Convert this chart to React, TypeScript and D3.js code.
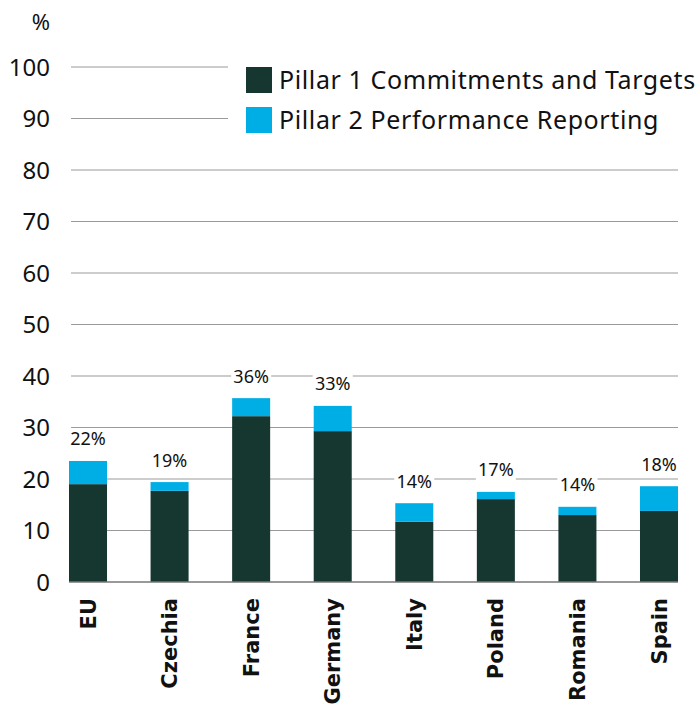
import React from "react";
import * as d3 from "d3";

const categories = ["EU", "Czechia", "France", "Germany", "Italy", "Poland", "Romania", "Spain"];
const pillar1 = [19.0, 17.7, 32.2, 29.3, 11.7, 16.1, 13.0, 13.8];
const pillar2 = [4.5, 1.7, 3.5, 4.9, 3.6, 1.4, 1.6, 4.8];
const totalLabels = ["22%", "19%", "36%", "33%", "14%", "17%", "14%", "18%"];
const yTicks = [0, 10, 20, 30, 40, 50, 60, 70, 80, 90, 100];
const seriesNames = ["Pillar 1 Commitments and Targets", "Pillar 2 Performance Reporting"];

const W = 697;
const H = 705;
const DARK = "#163630";
const BLUE = "#00AEE6";
const FONT = "'Noto Sans', 'Open Sans', sans-serif";

export default function App() {
  const x = d3.scaleBand<string>().domain(categories).range([69, 678]).paddingInner(0.534).paddingOuter(0);
  const y = d3.scaleLinear().domain([0, 100]).range([582, 67]);
  const bw = x.bandwidth();
  const rows = categories.map((c, i) => ({ c, p1: pillar1[i], p2: pillar2[i], label: totalLabels[i] }));

  return (
    <svg width={W} height={H} style={{ position: "absolute", left: 0, top: 0, background: "#fff" }}>
      {yTicks.filter((t) => t > 0).map((t) => (
        <line key={t} x1={71} x2={678} y1={y(t)} y2={y(t)} stroke="#9a9a9a" strokeWidth={1.2} />
      ))}
      {yTicks.map((t) => (
        <text key={"t" + t} x={50} y={y(t)} dy="0.36em" textAnchor="end" fontFamily={FONT} fontSize={24} fill="#111">
          {t}
        </text>
      ))}
      <text x={50} y={22} dy="0.36em" textAnchor="end" fontFamily={FONT} fontSize={22} fill="#111">%</text>

      {/* legend */}
      <rect x={228} y={55} width={469} height={90} fill="#fff" />
      {seriesNames.map((s, i) => (
        <g key={s} transform={`translate(246, ${67 + i * 40})`}>
          <rect width={26} height={26} fill={i === 0 ? DARK : BLUE} />
          <text x={33} y={13} dy="0.36em" fontFamily={FONT} fontSize={25} letterSpacing={0.6} fill="#111">{s}</text>
        </g>
      ))}

      {rows.map((r) => {
        const x0 = x(r.c)!;
        const top = y(r.p1 + r.p2);
        return (
          <g key={r.c}>
            <rect x={x0} y={y(r.p1)} width={bw} height={y(0) - y(r.p1)} fill={DARK} />
            <rect x={x0} y={top} width={bw} height={y(r.p1) - top} fill={BLUE} />
            <rect x={x0 - 1} y={top - 33} width={bw + 2} height={22} fill="#fff" />
            <text x={x0 + bw / 2} y={top - 22} dy="0.36em" textAnchor="middle" fontFamily={FONT} fontSize={18} fill="#111">
              {r.label}
            </text>
          </g>
        );
      })}
      <line x1={69} x2={678} y1={y(0)} y2={y(0)} stroke="#777" strokeWidth={1.5} />

      {categories.map((c) => (
        <text
          key={"c" + c}
          transform={`translate(${x(c)! + bw / 2}, 598) rotate(-90)`}
          dy="0.36em"
          textAnchor="end"
          fontFamily="'DejaVu Sans', sans-serif"
          fontWeight="bold"
          fontSize={21}
          fill="#111"
        >
          {c}
        </text>
      ))}
    </svg>
  );
}
